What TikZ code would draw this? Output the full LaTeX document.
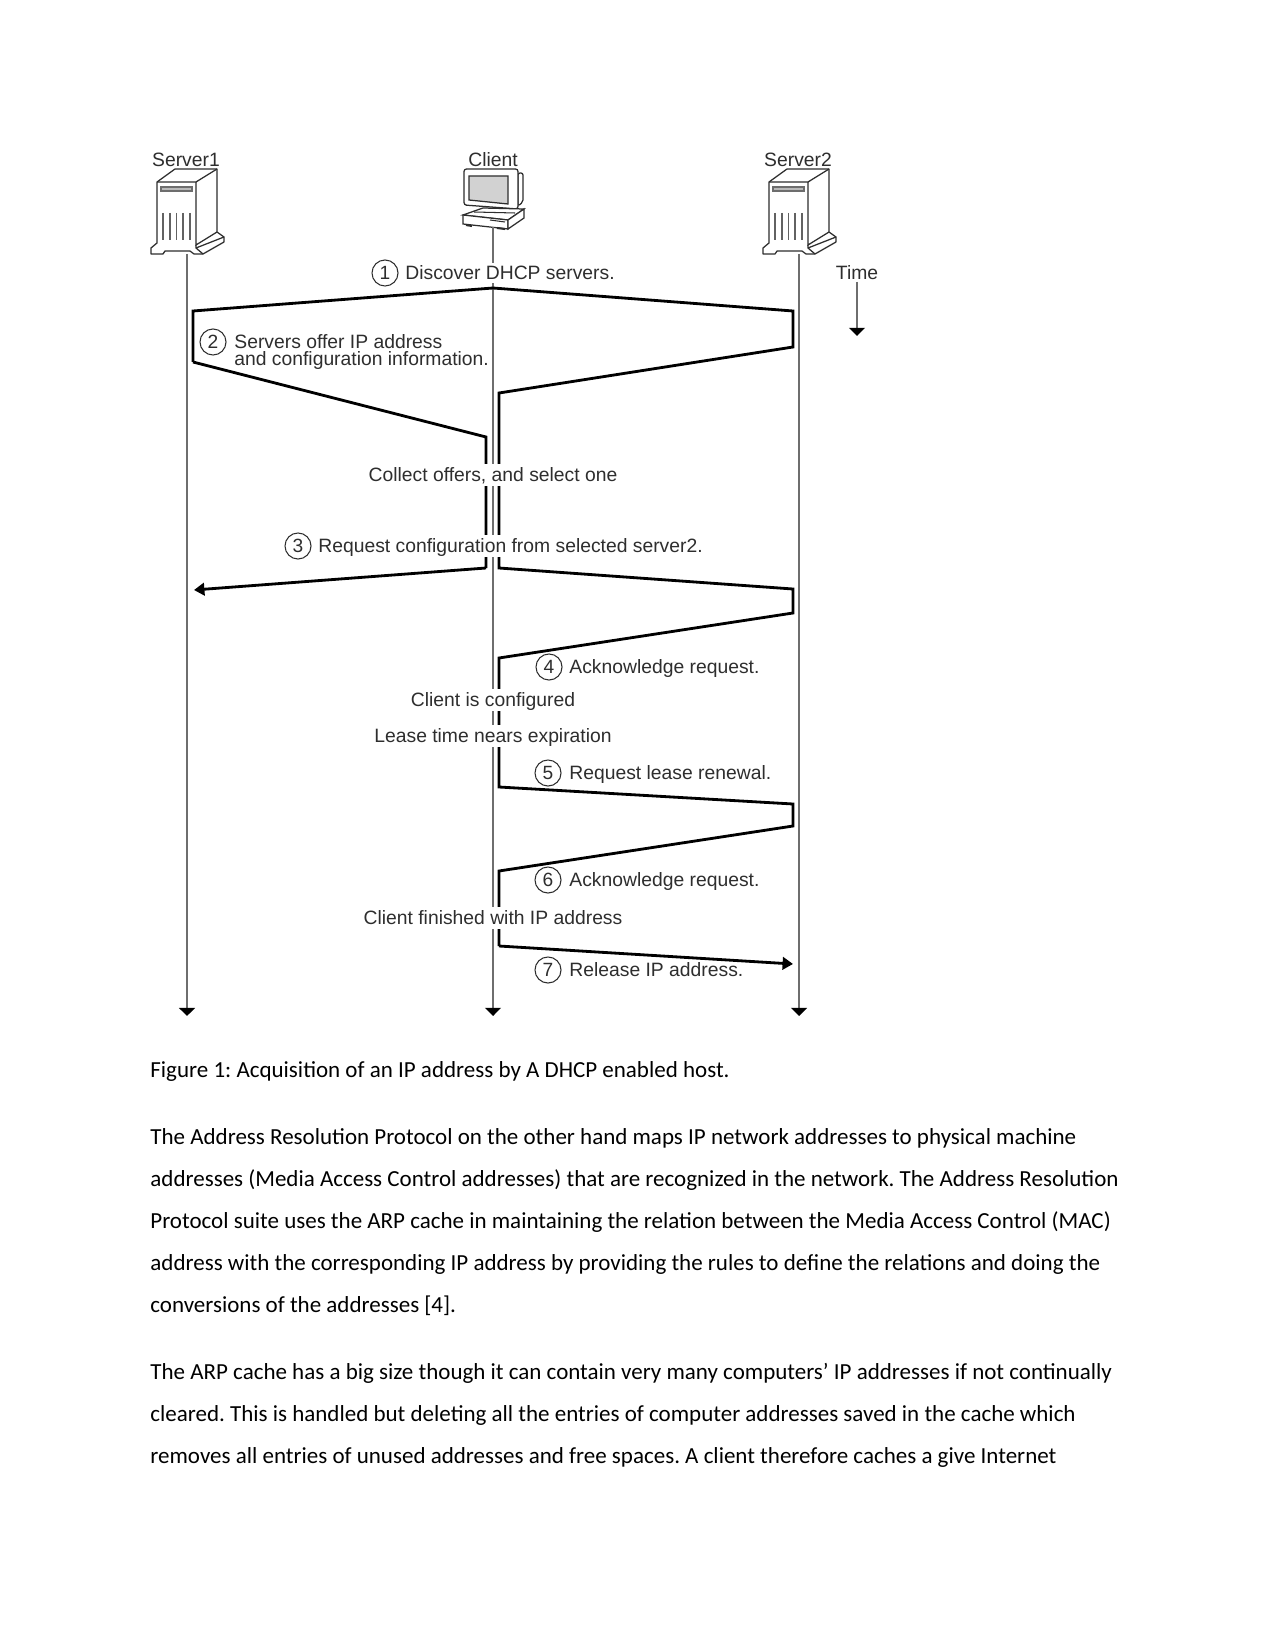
\documentclass[tikz,border=0pt]{standalone}
\usepackage{fontspec}
\setmainfont{Carlito}
\newfontfamily\diagfont{Liberation Sans}
\usetikzlibrary{arrows.meta,shapes.geometric}
\definecolor{ink}{HTML}{2E2E2E}
\definecolor{lifeg}{HTML}{6E6E6E}
\tikzset{
  x=0.48pt,y=-0.48pt,
  life/.style={draw=lifeg,line width=0.85pt,-{Triangle[width=7.6pt,length=3.9pt,color=black]}},
  stem/.style={draw=lifeg,line width=0.7pt,-{Triangle[width=7.6pt,length=3.9pt,color=black]}},
  fat/.style={draw=black,line width=1.35pt,miter limit=10},
  fatarrow/.style={fat,-{Triangle[width=6pt,length=5pt]}},
  label/.style={font=\diagfont\fontsize{9.27}{10}\selectfont,text=ink,inner sep=0pt,anchor=west,text height=7pt,text depth=0.6pt},
  gaplabel/.style={label,anchor=center,fill=white,minimum height=10.6pt},
  head/.style={label,anchor=center},
  num/.style={circle,draw=ink,line width=0.5pt,inner sep=0pt,minimum size=12.5pt,font=\diagfont\fontsize{9.2}{10}\selectfont,text=ink},
  body/.style={font=\fontsize{11.04}{13}\selectfont,text=black,inner sep=0pt,anchor=base west},
  serverpic/.pic={
    \draw[draw=ink,line width=0.6pt,line join=round,fill=white]
      (157,182)--(175,169)--(217,169)--(217,232)--(224,237)--(224,242)--(203,254)
      --(194,254)--(190,251)--(165,251)--(163,254)--(151,254)--(151,248)--(157,243)--cycle;
    \draw[draw=ink,line width=0.6pt] (157,182)--(196,182)--(217,169);
    \draw[draw=ink,line width=0.6pt] (196,182)--(196,245)--(217,232);
    \draw[draw=ink,line width=0.6pt] (196,245)--(196,248)--(203,254);
    \draw[draw=ink,line width=0.6pt] (196,248)--(224,237);
    \draw[draw=ink!70,line width=0.5pt,fill=gray!55] (161,187) rectangle (192,191);
    \foreach \vx in {163,170,176.5,183,190}{\draw[draw=ink!75,line width=0.6pt] (\vx,213)--(\vx,240);}
  },
  clientpic/.pic={
    \draw[draw=ink,line width=0.6pt,fill=white,rounded corners=1pt] (518,173)--(523,173)--(523,202)--(518,206)--cycle;
    \draw[draw=ink,line width=0.6pt,fill=white,rounded corners=1.2pt] (464,169)--(518,169)--(518,209)--(464,205)--cycle;
    \draw[draw=ink,line width=0.6pt,fill=gray!35] (469,176)--(508,176)--(508,204)--(469,200)--cycle;
    \draw[draw=ink,line width=0.6pt,fill=white] (463,215)--(483,208)--(524,209)--(508,220)--cycle;
    \draw[draw=ink,line width=0.6pt,fill=white] (463,215)--(508,220)--(508,229)--(463,224)--cycle;
    \draw[draw=ink,line width=0.6pt,fill=white] (508,220)--(524,209)--(524,218)--(508,229)--cycle;
    \draw[draw=ink,line width=0.5pt] (474,212)--(515,213) (490,220)--(505,222);
    \draw[draw=ink,line width=1pt] (466,225)--(472,226) (497,228)--(505,229);
  }
}
\begin{document}
\frenchspacing
\begin{tikzpicture}
\useasboundingbox[fill=white] (0,0) rectangle (1275,1650);
% lifeline ends
\coordinate (s1top) at (187,254);
\coordinate (s1end) at (187,1016);
\coordinate (ctop) at (493,227);
\coordinate (cend) at (493,1016);
\coordinate (s2top) at (799,254);
\coordinate (s2end) at (799,1016);
\coordinate (ttop) at (857,282);
\coordinate (tend) at (857,336);
% message corners
\coordinate (apex) at (493,288);
\coordinate (dl) at (193,311);
\coordinate (ol) at (193,362);
\coordinate (cl) at (486,437);
\coordinate (rl) at (486,568);
\coordinate (rs1) at (194,590);
\coordinate (dr) at (793,311);
\coordinate (or) at (793,347);
\coordinate (cr) at (499,393);
\coordinate (rr) at (499,568);
\coordinate (rq) at (793,589);
\coordinate (ak) at (793,613);
\coordinate (ac) at (499,658);
\coordinate (lc) at (499,787);
\coordinate (lq) at (793,804);
\coordinate (la) at (793,826);
\coordinate (fc) at (499,871);
\coordinate (fr) at (499,946);
\coordinate (fs) at (793,964);

\pic at (0,0) {serverpic};
\pic at (612,0) {serverpic};
\pic at (0,0) {clientpic};

\draw[life] (s1top) -- (s1end);
\draw[life] (s2top) -- (s2end);
\draw[stem] (ctop) -- (cend);
\draw[stem] (ttop) -- (tend);

\draw[fat] (ol) -- (dl) -- (apex) -- (dr) -- (or) -- (cr) -- (rr) -- (rq) -- (ak) -- (ac) -- (lc) -- (lq) -- (la) -- (fc) -- (fr);
\draw[fat] (ol) -- (cl) -- (rl);
\draw[fatarrow] (rl) -- (rs1);
\draw[fatarrow] (fr) -- (fs);

\node[head] (ts1) at (186,160) {Server1};
\node[head] (tc) at (493,160) {Client};
\node[head] (ts2) at (798,160) {Server2};
\node[head] (ttime) at (857,273) {Time};

\node[num] (n1) at (385,273) {1};
\node[label,fill=white,minimum height=10pt] (t1) at (405,273) {Discover DHCP servers.};
\node[num] (n2) at (213,342) {2};
\node[label] (t2a) at (234,342) {Servers offer IP address};
\node[label] (t2b) at (234,359) {and configuration information.};
\node[gaplabel] (tcollect) at (493,475) {Collect offers, and select one};
\node[num] (n3) at (298,546) {3};
\node[label,fill=white,minimum height=10.6pt] (t3) at (318,546) {Request configuration from selected server2.};
\node[num] (n4) at (549,667) {4};
\node[label] (t4) at (569,667) {Acknowledge request.};
\node[gaplabel] (tconf) at (493,700) {Client is configured};
\node[gaplabel] (tlease) at (493,736) {Lease time nears expiration};
\node[num] (n5) at (548,773) {5};
\node[label] (t5) at (569,773) {Request lease renewal.};
\node[num] (n6) at (548,880) {6};
\node[label] (t6) at (569,880) {Acknowledge request.};
\node[gaplabel] (tfin) at (493,918) {Client finished with IP address};
\node[num] (n7) at (548,970) {7};
\node[label] (t7) at (569,970) {Release IP address.};

\node[body] (cap) at (150,1077) {Figure 1: Acquisition of an IP address by A DHCP enabled host.};
\node[body] (p1) at (150,1144) {The Address Resolution Protocol on the other hand maps IP network addresses to physical machine};
\node[body] (p2) at (150,1186) {addresses (Media Access Control addresses) that are recognized in the network. The Address Resolution};
\node[body] (p3) at (150,1228) {Protocol suite uses the ARP cache in maintaining the relation between the Media Access Control (MAC)};
\node[body] (p4) at (150,1270) {address with the corresponding IP address by providing the rules to define the relations and doing the};
\node[body] (p5) at (150,1312) {conversions of the addresses [4].};
\node[body] (q1) at (150,1379) {The ARP cache has a big size though it can contain very many computers’ IP addresses if not continually};
\node[body] (q2) at (150,1421) {cleared. This is handled but deleting all the entries of computer addresses saved in the cache which};
\node[body] (q3) at (150,1463) {removes all entries of unused addresses and free spaces. A client therefore caches a give Internet};
\end{tikzpicture}
\end{document}
